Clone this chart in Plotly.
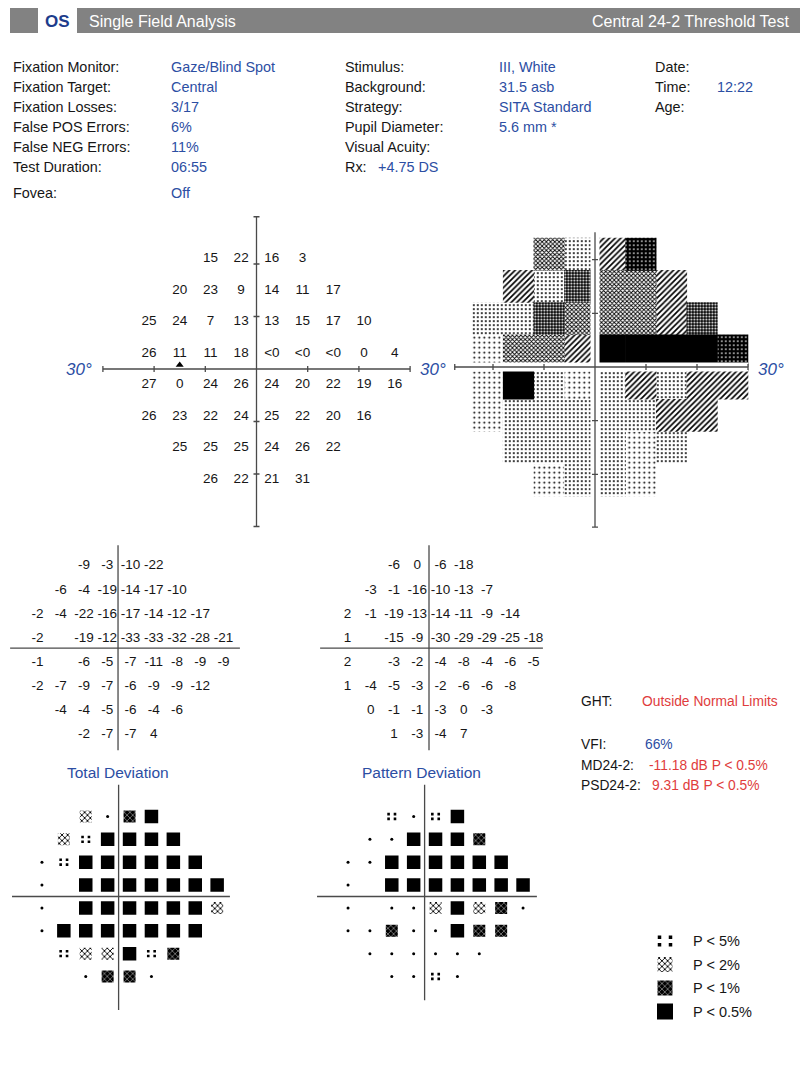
import plotly.graph_objects as go

W, H = 800, 1080
FONT = "Liberation Sans, Arial, Helvetica, sans-serif"
BLUE = "#2c4ea3"
DARKBLUE = "#1d3c8c"
RED = "#e03c3c"
INK = "#161616"
LINE = "#4a4a4a"
HEADER_GRAY = "#828282"

# ---------------- data ----------------
ROW_Y = [21, 15, 9, 3, -3, -9, -15, -21]
ROW_X = [
    [-9, -3, 3, 9],
    [-15, -9, -3, 3, 9, 15],
    [-21, -15, -9, -3, 3, 9, 15, 21],
    [-21, -15, -9, -3, 3, 9, 15, 21, 27],
    [-21, -15, -9, -3, 3, 9, 15, 21, 27],
    [-21, -15, -9, -3, 3, 9, 15, 21],
    [-15, -9, -3, 3, 9, 15],
    [-9, -3, 3, 9],
]

THRESHOLD = [
    ["15", "22", "16", "3"],
    ["20", "23", "9", "14", "11", "17"],
    ["25", "24", "7", "13", "13", "15", "17", "10"],
    ["26", "11", "11", "18", "<0", "<0", "<0", "0", "4"],
    ["27", "0", "24", "26", "24", "20", "22", "19", "16"],
    ["26", "23", "22", "24", "25", "22", "20", "16"],
    ["25", "25", "25", "24", "26", "22"],
    ["26", "22", "21", "31"],
]

TOTAL_DEV = [
    [-9, -3, -10, -22],
    [-6, -4, -19, -14, -17, -10],
    [-2, -4, -22, -16, -17, -14, -12, -17],
    [-2, None, -19, -12, -33, -33, -32, -28, -21],
    [-1, None, -6, -5, -7, -11, -8, -9, -9],
    [-2, -7, -9, -7, -6, -9, -9, -12],
    [-4, -4, -5, -6, -4, -6],
    [-2, -7, -7, 4],
]

PATTERN_DEV = [
    [-6, 0, -6, -18],
    [-3, -1, -16, -10, -13, -7],
    [2, -1, -19, -13, -14, -11, -9, -14],
    [1, None, -15, -9, -30, -29, -29, -25, -18],
    [2, None, -3, -2, -4, -8, -4, -6, -5],
    [1, -4, -5, -3, -2, -6, -6, -8],
    [0, -1, -1, -3, 0, -3],
    [1, -3, -4, 7],
]

# probability level: 0 = normal, 1 = P<5%, 2 = P<2%, 3 = P<1%, 4 = P<0.5%
TD_PROB = [
    [2, 0, 3, 4],
    [2, 1, 4, 4, 4, 4],
    [0, 1, 4, 4, 4, 4, 4, 4],
    [0, None, 4, 4, 4, 4, 4, 4, 4],
    [0, None, 4, 4, 4, 4, 4, 4, 2],
    [0, 4, 4, 4, 4, 4, 4, 4],
    [1, 2, 2, 4, 1, 3],
    [0, 3, 3, 0],
]

PD_PROB = [
    [1, 0, 1, 4],
    [0, 0, 4, 4, 4, 3],
    [0, 0, 4, 4, 4, 4, 4, 4],
    [0, None, 4, 4, 4, 4, 4, 4, 4],
    [0, None, 0, 0, 2, 4, 2, 3, 0],
    [0, 0, 3, 0, 0, 4, 3, 3],
    [0, 0, 0, 0, 0, 0],
    [0, 0, 1, 0],
]

BLIND_SPOT = (-15, 0)

LEGEND_LEVELS = [1, 2, 3, 4]
LEGEND_LABELS = ["P < 5%", "P < 2%", "P < 1%", "P < 0.5%"]

INFO_COL1_LABELS = ["Fixation Monitor:", "Fixation Target:", "Fixation Losses:",
                    "False POS Errors:", "False NEG Errors:", "Test Duration:", "Fovea:"]
INFO_COL1_VALUES = ["Gaze/Blind Spot", "Central", "3/17", "6%", "11%", "06:55", "Off"]
INFO_COL2_LABELS = ["Stimulus:", "Background:", "Strategy:", "Pupil Diameter:",
                    "Visual Acuity:", "Rx:"]
INFO_COL2_VALUES = ["III, White", "31.5 asb", "SITA Standard", "5.6 mm *", "", ""]
RX_VALUE = "+4.75 DS"
INFO_COL3_LABELS = ["Date:", "Time:", "Age:"]
INFO_COL3_VALUES = ["", "12:22", ""]

EYE = "OS"
TITLE_LEFT = "Single Field Analysis"
TITLE_RIGHT = "Central 24-2 Threshold Test"
GHT = "Outside Normal Limits"
VFI = "66%"
MD = "-11.18 dB P < 0.5%"
PSD = "9.31 dB P < 0.5%"

# ---------------- layout helpers ----------------
PANELS = {
    "thr": dict(cx=256.5, cy=369.0, sx=5.12, sy=5.25, xr=(-33, 33), yr=(-33, 33)),
    "gs":  dict(cx=595.0, cy=367.0, sx=5.10, sy=5.37, xr=(-32, 32), yr=(-32, 32)),
    "tdn": dict(cx=119.0, cy=650.5, sx=3.875, sy=4.02, xr=(-30, 33), yr=(-28, 28)),
    "pdn": dict(cx=429.0, cy=650.5, sx=3.875, sy=4.02, xr=(-30, 33), yr=(-28, 28)),
    "tdp": dict(cx=118.6, cy=896.5, sx=3.65, sy=3.81, xr=(-31, 32), yr=(-31, 31)),
    "pdp": dict(cx=424.6, cy=896.5, sx=3.646, sy=3.81, xr=(-31, 32), yr=(-31, 31)),
    "leg": dict(cx=665.0, cy=941.0, sx=1.0, sy=23.5, xr=(-20, 20), yr=(-3.6, 0.6)),
}

fig = go.Figure()
layout_axes = {}
AX = {}
for i, (name, p) in enumerate(PANELS.items(), start=1):
    xa = "x" if i == 1 else f"x{i}"
    ya = "y" if i == 1 else f"y{i}"
    x0 = p["cx"] + p["xr"][0] * p["sx"]
    x1 = p["cx"] + p["xr"][1] * p["sx"]
    ytop = p["cy"] - p["yr"][1] * p["sy"]
    ybot = p["cy"] - p["yr"][0] * p["sy"]
    layout_axes["xaxis" if i == 1 else f"xaxis{i}"] = dict(
        domain=[max(0, x0 / W), min(1, x1 / W)], range=list(p["xr"]),
        visible=False, fixedrange=True, anchor=ya)
    layout_axes["yaxis" if i == 1 else f"yaxis{i}"] = dict(
        domain=[max(0, 1 - ybot / H), min(1, 1 - ytop / H)], range=list(p["yr"]),
        visible=False, fixedrange=True, anchor=xa)
    AX[name] = (xa, ya, p["sx"], p["sy"])


def cells(grid):
    for y, xs, vals in zip(ROW_Y, ROW_X, grid):
        for x, v in zip(xs, vals):
            if v is not None:
                yield x, y, v


shapes = []
annotations = []


def seg(name, x0, y0, x1, y1, color=LINE, width=1.3):
    xa, ya = AX[name][:2]
    shapes.append(dict(type="line", xref=xa, yref=ya, x0=x0, y0=y0, x1=x1, y1=y1,
                       line=dict(color=color, width=width), layer="above"))


def prect(x0, y0, x1, y1, color):
    shapes.append(dict(type="rect", xref="paper", yref="paper", x0=x0 / W, x1=x1 / W,
                       y0=1 - y1 / H, y1=1 - y0 / H, fillcolor=color,
                       line=dict(width=0), layer="below"))


def text(s, x, y, size, color=INK, anchor="left", bold=False, italic=False):
    annotations.append(dict(
        text=s, x=x / W, y=1 - y / H, xref="paper", yref="paper", xanchor=anchor,
        yanchor="middle", showarrow=False, borderpad=0,
        font=dict(family=FONT, size=size, color=color,
                  weight="bold" if bold else "normal",
                  style="italic" if italic else "normal")))


def add_text_grid(name, grid, size=13.5, fmt=str):
    xa, ya = AX[name][:2]
    pts = list(cells(grid))
    fig.add_trace(go.Scatter(
        x=[p[0] for p in pts], y=[p[1] for p in pts], text=[fmt(p[2]) for p in pts],
        mode="text", textposition="middle center",
        textfont=dict(family=FONT, size=size, color=INK),
        xaxis=xa, yaxis=ya, hoverinfo="skip", showlegend=False))


def add_rects(name, xs, ys, w_px, h_px, style):
    xa, ya, sx, sy = AX[name]
    if not xs:
        return
    w = w_px / sx
    h = h_px / sy
    if style is None:
        marker = dict(color="black", line=dict(width=0))
    else:
        st = dict(fgcolor="black", bgcolor="white", fillmode="replace")
        st.update(style)
        marker = dict(color=st["bgcolor"], line=dict(width=0), pattern=st)
    fig.add_trace(go.Bar(
        x=list(xs), y=[h] * len(xs), base=[y - h / 2 for y in ys], width=w,
        marker=marker, xaxis=xa, yaxis=ya, hoverinfo="skip", showlegend=False))


def add_dots(name, xs, ys, size, symbol="circle"):
    xa, ya = AX[name][:2]
    if not xs:
        return
    fig.add_trace(go.Scatter(
        x=list(xs), y=list(ys), mode="markers",
        marker=dict(symbol=symbol, size=size, color="black", line=dict(width=0)),
        xaxis=xa, yaxis=ya, hoverinfo="skip", showlegend=False))


P2_STYLE = dict(shape="x", size=4, solidity=0.4)
P1_STYLE = dict(shape="x", size=4, solidity=0.2, fgcolor="white", bgcolor="black")


def add_prob_symbols(name, pts, sq_px, sym_px, dx_px, dy_px, dsize, nsize):
    xa, ya, sx, sy = AX[name]
    by = {lv: [(x, y) for x, y, v in pts if v == lv] for lv in range(5)}
    add_dots(name, [p[0] for p in by[0]], [p[1] for p in by[0]], nsize)
    fx, fy = [], []
    for x, y in by[1]:
        for ddx in (-1, 1):
            for ddy in (-1, 1):
                fx.append(x + ddx * dx_px / sx)
                fy.append(y + ddy * dy_px / sy)
    add_dots(name, fx, fy, dsize, symbol="square")
    add_rects(name, [p[0] for p in by[2]], [p[1] for p in by[2]], sym_px, sym_px, P2_STYLE)
    add_rects(name, [p[0] for p in by[3]], [p[1] for p in by[3]], sym_px, sym_px, P1_STYLE)
    add_rects(name, [p[0] for p in by[4]], [p[1] for p in by[4]], sq_px, sq_px, None)


# ---------------- header ----------------
prect(10, 8, 38, 33, HEADER_GRAY)
prect(77, 8, 800, 33, HEADER_GRAY)
text(EYE, 58, 21, 17, DARKBLUE, anchor="center", bold=True)
text(TITLE_LEFT, 88, 21, 16, "white")
text(TITLE_RIGHT, 790, 21, 16, "white", anchor="right")

# ---------------- info block ----------------
INFO_ROWS = [67, 87, 107, 127, 147, 167, 193]
for lab, val, yy in zip(INFO_COL1_LABELS, INFO_COL1_VALUES, INFO_ROWS):
    text(lab, 12, yy, 14.4)
    text(val, 170, yy, 14.4, BLUE)
for lab, val, yy in zip(INFO_COL2_LABELS, INFO_COL2_VALUES, INFO_ROWS):
    text(lab, 344, yy, 14.4)
    if val:
        text(val, 498, yy, 14.4, BLUE)
text(RX_VALUE, 377, INFO_ROWS[5], 14.4, BLUE)
for lab, val, yy in zip(INFO_COL3_LABELS, INFO_COL3_VALUES, INFO_ROWS):
    text(lab, 654, yy, 14.4)
    if val:
        text(val, 716, yy, 14.4, BLUE)

# ---------------- threshold numeric plot ----------------
add_text_grid("thr", THRESHOLD, size=13.5)
add_dots("thr", [BLIND_SPOT[0]], [BLIND_SPOT[1] + 0.75], 7, symbol="triangle-up")
seg("thr", -30, 0, 30, 0)
seg("thr", 0, -30, 0, 29)
sy_thr = PANELS["thr"]["sy"]
sx_thr = PANELS["thr"]["sx"]
for t in (-30, -20, -10, 10, 20, 30):
    seg("thr", t, -3 / sy_thr, t, 3 / sy_thr)
for t in (-30, -20, -10, 10, 20, 29):
    seg("thr", -3 / sx_thr, t, 3 / sx_thr, t)

# ---------------- grayscale ----------------
GS_STYLES = [
    (26, dict(shape=".", size=5, solidity=0.12)),
    (21, dict(shape=".", size=4, solidity=0.2)),
    (16, dict(shape="/", size=4, solidity=0.42)),
    (11, dict(shape="x", size=3, solidity=0.5)),
    (6, dict(shape=".", size=3, solidity=0.35, fgcolor="white", bgcolor="black")),
    (1, dict(shape=".", size=4, solidity=0.15, fgcolor="white", bgcolor="black")),
    (-999, None),
]


def thr_value(s):
    return -1 if s.startswith("<") else int(s)


gs_pts = [(x, y, thr_value(v)) for x, y, v in cells(THRESHOLD)]
gsx, gsy = PANELS["gs"]["sx"], PANELS["gs"]["sy"]
prev = 10 ** 6
for lo, style in GS_STYLES:
    sel = [(x, y) for x, y, v in gs_pts if lo <= v < prev]
    add_rects("gs", [p[0] for p in sel], [p[1] for p in sel], 6 * gsx + 0.6, 6 * gsy + 0.6, style)
    prev = lo
seg("gs", -30, 0, 30, 0, color="white", width=9)
seg("gs", 0, -30, 0, 30, color="white", width=9)
seg("gs", -27.5, 0, 30, 0)
seg("gs", 0, -29.8, 0, 25.1)
for t in (-27.5, -20, -10, 10, 20, 30):
    seg("gs", t, -3 / gsy, t, 3 / gsy)
for t in (-29.8, -20, -10, 10, 20):
    seg("gs", -3 / gsx, t, 3 / gsx, t)

text("<i>30°</i>", 79, 369, 17, BLUE, anchor="center")
text("<i>30°</i>", 433, 369, 17, BLUE, anchor="center")
text("<i>30°</i>", 771, 369, 17, BLUE, anchor="center")

# ---------------- deviation numeric plots ----------------
add_text_grid("tdn", TOTAL_DEV, size=13.5)
add_text_grid("pdn", PATTERN_DEV, size=13.5)
seg("tdn", -28.1, 0.6, 31.2, 0.6)
seg("tdn", -0.25, -24.8, -0.25, 26.2)
seg("pdn", -28.1, 0.6, 29.4, 0.6)
seg("pdn", 0.0, -24.8, 0.0, 26.2)

# ---------------- probability plots ----------------
text("Total Deviation", 118, 772, 15.5, BLUE, anchor="center")
text("Pattern Deviation", 421, 772, 15.5, BLUE, anchor="center")
add_prob_symbols("tdp", list(cells(TD_PROB)), 13.5, 12, 3.2, 2.4, 2.6, 3)
add_prob_symbols("pdp", list(cells(PD_PROB)), 13.5, 12, 3.2, 2.4, 2.6, 3)
seg("tdp", -29.2, 0, 30.5, 0)
seg("tdp", 0, -29.8, 0, 29.3)
seg("pdp", -29.5, 0, 30.8, 0)
seg("pdp", 0, -27.2, 0, 29.3)

# ---------------- legend ----------------
leg_pts = [(0, -i, lv) for i, lv in enumerate(LEGEND_LEVELS)]
add_prob_symbols("leg", leg_pts, 16, 15, 5.5, 3.8, 3.5, 3)
for i, lab in enumerate(LEGEND_LABELS):
    text(lab, 692, 941 + i * 23.5, 14.5)

# ---------------- global indices ----------------
text("GHT:", 580, 701, 13.8)
text(GHT, 641, 701, 13.8, RED)
text("VFI:", 580, 744, 13.8)
text(VFI, 644, 744, 13.8, BLUE)
text("MD24-2:", 580, 765, 13.8)
text(MD, 648, 765, 13.8, RED)
text("PSD24-2:", 580, 785, 13.8)
text(PSD, 651, 785, 13.8, RED)

fig.update_layout(
    width=W, height=H, margin=dict(l=0, r=0, t=0, b=0, pad=0),
    paper_bgcolor="white", plot_bgcolor="rgba(0,0,0,0)",
    showlegend=False, barmode="overlay",
    shapes=shapes, annotations=annotations,
    **layout_axes,
)
fig.write_html("out.html")
